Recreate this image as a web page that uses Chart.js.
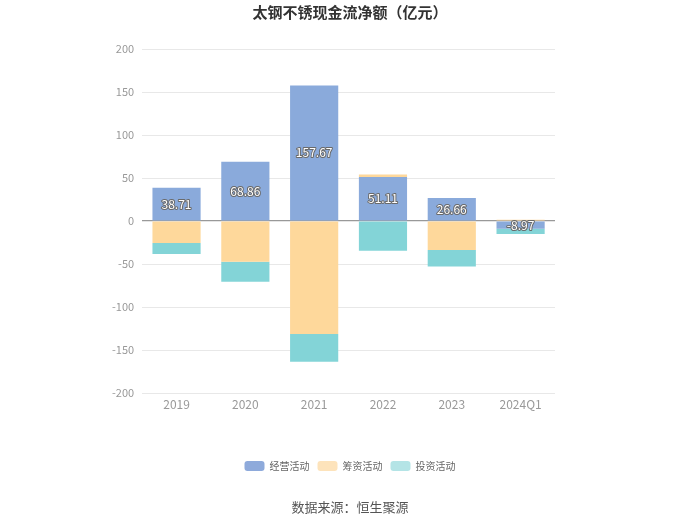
<!DOCTYPE html>
<html>
<head>
<meta charset="utf-8">
<script src="https://cdn.jsdelivr.net/npm/chart.js@4"></script>
<style>
  html, body { margin: 0; padding: 0; background: #fff; }
  #wrap { width: 700px; height: 524px; position: relative; }
</style>
</head>
<body>
<div id="wrap"><canvas id="chart" width="700" height="524"></canvas></div>
<script>
// chart data
const categories = ['2019', '2020', '2021', '2022', '2023', '2024Q1'];
const operating = [38.71, 68.86, 157.67, 51.11, 26.66, -8.97];
const financing = [-25.6, -47.3, -131.4, 3.0, -33.7, 1.5];
const investing = [-12.8, -23.2, -32.2, -34.5, -19.3, -6.2];
const yTicks = [-200, -150, -100, -50, 0, 50, 100, 150, 200];

const fontFamily = '"Microsoft YaHei", "Noto Sans CJK SC", sans-serif';

// white label with dark outline in the middle of each operating bar
const valueLabels = {
    id: 'valueLabels',
    afterDatasetsDraw(chart) {
        const ctx = chart.ctx;
        const meta = chart.getDatasetMeta(0);
        ctx.save();
        ctx.font = '12px ' + fontFamily;
        ctx.textAlign = 'center';
        ctx.textBaseline = 'middle';
        ctx.lineJoin = 'round';
        meta.data.forEach((bar, i) => {
            const y = (bar.y + bar.base) / 2;
            const txt = operating[i].toFixed(2);
            ctx.lineWidth = 2;
            ctx.strokeStyle = '#6a6a6a';
            ctx.strokeText(txt, bar.x, y);
            ctx.fillStyle = '#fff';
            ctx.fillText(txt, bar.x, y);
        });
        ctx.restore();
    }
};

// the full-width boxes get centred on the padded area, move them to the page centre
const centreBoxes = {
    id: 'centreBoxes',
    afterLayout(chart) {
        [chart.legend, chart.titleBlock].forEach(b => {
            if (!b) return;
            const shift = 350 - (b.left + b.right) / 2;
            b.left += shift;
            b.right += shift;
        });
    }
};

// source line under the legend
const sourceText = {
    id: 'sourceText',
    afterDraw(chart) {
        const ctx = chart.ctx;
        ctx.save();
        ctx.font = '13px ' + fontFamily;
        ctx.fillStyle = '#555';
        ctx.textAlign = 'center';
        ctx.textBaseline = 'middle';
        ctx.fillText('数据来源：恒生聚源', 350, 507);
        ctx.restore();
    }
};

const legendColors = ['#8eaadb', '#fde3bb', '#b4e4e6'];

new Chart(document.getElementById('chart'), {
    type: 'bar',
    data: {
        labels: categories,
        datasets: [
            { label: '经营活动', data: operating, backgroundColor: '#8aaadb' },
            { label: '筹资活动', data: financing, backgroundColor: '#fed89b' },
            { label: '投资活动', data: investing, backgroundColor: '#83d4d7' }
        ]
    },
    options: {
        responsive: false,
        animation: false,
        layout: { padding: { top: 0, left: 104, right: 145, bottom: 43 } },
        datasets: { bar: { barPercentage: 0.7, categoryPercentage: 1 } },
        scales: {
            x: {
                stacked: true,
                grid: { display: false, drawTicks: false, tickLength: 0 },
                border: { display: false },
                ticks: { color: '#999', font: { size: 12, family: fontFamily }, padding: 4 },
                afterFit(axis) { axis.height = 60; }
            },
            y: {
                stacked: true,
                min: -200,
                max: 200,
                afterBuildTicks(axis) { axis.ticks = yTicks.map(v => ({ value: v })); },
                border: { display: false },
                grid: {
                    color: c => c.tick.value === 0 ? '#999' : '#e8e8e8',
                    lineWidth: c => c.tick.value === 0 ? 1.2 : 1,
                    drawTicks: false
                },
                ticks: { color: '#999', font: { size: 11, family: fontFamily }, padding: 8 }
            }
        },
        plugins: {
            title: {
                display: true,
                text: '太钢不锈现金流净额（亿元）',
                color: '#333',
                font: { size: 15, weight: 'bold', family: fontFamily },
                padding: { top: 3, bottom: 28 }
            },
            legend: {
                position: 'bottom',
                labels: {
                    boxWidth: 20,
                    boxHeight: 10,
                    padding: 8,
                    color: '#666',
                    font: { size: 10, family: fontFamily },
                    useBorderRadius: true,
                    generateLabels(chart) {
                        return chart.data.datasets.map((ds, i) => ({
                            text: ds.label,
                            fillStyle: legendColors[i],
                            strokeStyle: legendColors[i],
                            lineWidth: 0,
                            borderRadius: 3,
                            datasetIndex: i,
                            fontColor: '#666'
                        }));
                    }
                }
            },
            tooltip: { enabled: false }
        }
    },
    plugins: [centreBoxes, valueLabels, sourceText]
});
</script>
</body>
</html>
